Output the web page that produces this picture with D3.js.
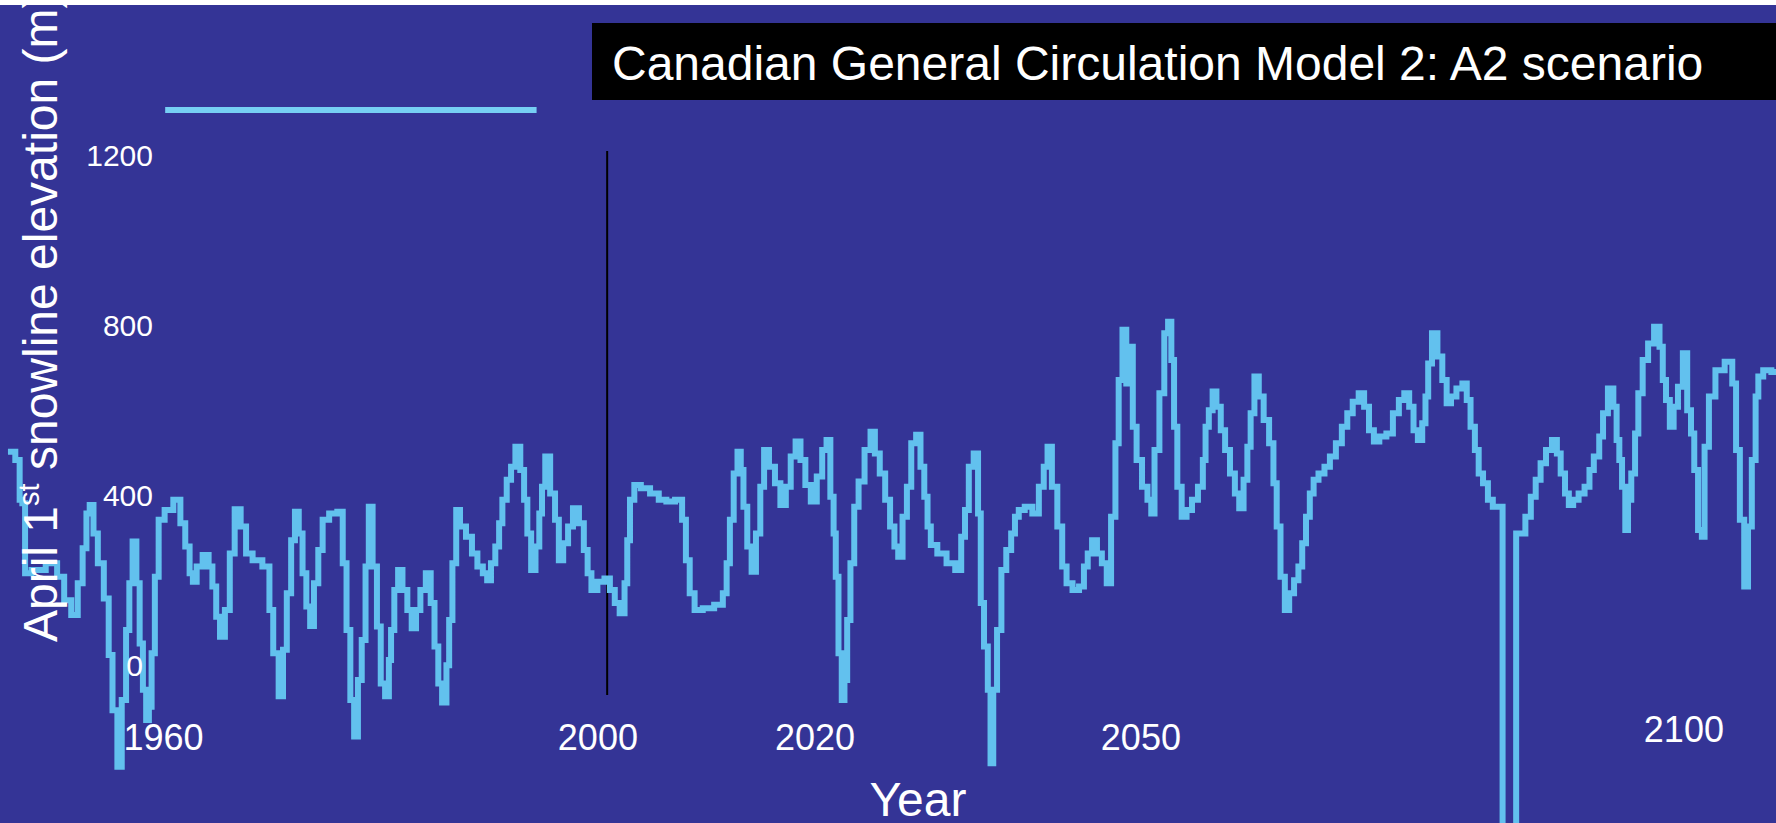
<!DOCTYPE html>
<html>
<head>
<meta charset="utf-8">
<script src="https://cdn.jsdelivr.net/npm/d3@7"></script>
<style>
  html, body { margin: 0; padding: 0; background: #ffffff; }
  svg { display: block; }
  text { font-family: "Liberation Sans", Arial, sans-serif; fill: #ffffff; }
</style>
</head>
<body>
<svg id="chart"></svg>
<script>
// April 1st snowline elevation, CGCM2 A2 run (vertices)
var snowYears = [
  1946.0,1946.8,1946.8,1947.3,1947.3,1948.5,1949.9,1950.6,1951.2,1951.9,1952.4,1952.8,1953.1,1953.4,1953.8,
  1954.2,1954.9,1955.1,1955.6,1956.0,1956.4,1956.8,1957.0,1957.4,1957.7,1958.0,1958.3,1958.6,1958.8,1959.1,
  1959.4,1959.8,1960.5,1961.4,1961.8,1962.3,1962.6,1962.9,1963.3,1964.0,1964.4,1964.7,1965.1,1965.4,1966.0,
  1966.3,1966.9,1967.4,1967.9,1968.6,1969.7,1969.9,1970.4,1970.9,1971.2,1971.6,1972.0,1972.3,1972.7,1973.0,
  1973.4,1973.7,1974.1,1974.5,1974.9,1975.7,1976.4,1976.7,1977.1,1977.4,1977.8,1978.1,1978.5,1978.8,1979.1,
  1979.5,1979.9,1980.2,1980.7,1980.9,1981.1,1981.5,1981.8,1982.3,1982.7,1983.1,1983.5,1983.9,1984.5,1984.8,
  1985.2,1985.5,1985.9,1986.3,1986.4,1986.9,1987.1,1987.6,1988.2,1988.7,1989.2,1989.7,1990.0,1990.4,1990.8,
  1991.1,1991.4,1991.9,1992.2,1992.7,1993.1,1993.4,1993.7,1994.1,1994.5,1994.8,1995.0,1995.4,1995.9,1996.3,
  1996.6,1997.1,1997.5,1998.0,1998.6,1998.9,1999.3,1999.6,2000.4,2000.9,2001.4,2001.8,2002.3,2002.7,2002.8,
  2003.2,2003.6,2004.4,2005.3,2006.0,2006.7,2007.6,2008.0,2008.3,2008.7,2009.2,2010.2,2011.3,2011.8,2012.0,
  2012.4,2012.7,2013.1,2013.3,2013.6,2014.0,2014.4,2014.8,2015.2,2015.5,2016.1,2016.6,2017.1,2017.6,2018.0,
  2018.5,2018.9,2019.4,2019.9,2020.5,2020.9,2021.3,2021.6,2021.9,2022.0,2022.4,2022.6,2022.9,2023.1,2023.5,
  2023.8,2024.3,2024.9,2025.4,2025.7,2026.3,2026.7,2027.2,2027.5,2027.9,2028.3,2028.7,2029.1,2029.6,2029.9,
  2030.3,2030.5,2030.9,2031.7,2032.6,2033.3,2033.7,2034.0,2034.4,2034.9,2035.2,2035.4,2035.8,2036.1,2036.3,
  2036.6,2037.0,2037.4,2037.9,2038.3,2038.6,2039.0,2039.7,2040.4,2040.9,2041.3,2041.6,2042.1,2042.6,2043.0,
  2043.4,2044.1,2044.6,2045.0,2045.3,2045.8,2046.2,2046.7,2047.1,2047.5,2047.9,2048.1,2048.6,2048.8,2049.2,
  2049.4,2049.9,2050.4,2050.9,2051.1,2051.5,2052.0,2052.4,2052.7,2053.0,2053.2,2053.6,2054.0,2054.5,2055.0,
  2055.6,2055.9,2056.1,2056.5,2056.8,2057.2,2057.6,2058.0,2058.5,2058.9,2059.3,2059.7,2060.0,2060.3,2060.7,
  2061.1,2061.6,2062.1,2062.4,2062.7,2063.1,2063.5,2063.9,2064.4,2064.7,2065.1,2065.4,2065.8,2066.1,2066.7,
  2067.2,2067.7,2068.3,2068.8,2069.3,2069.8,2070.4,2070.8,2071.3,2071.7,2072.3,2073.0,2073.5,2074.1,2074.5,
  2075.0,2075.3,2075.8,2076.1,2076.4,2076.6,2077.1,2077.6,2078.0,2078.4,2078.8,2079.4,2079.9,2080.2,2080.6,
  2081.0,2081.3,2081.8,2082.2,2082.7,2084.0,2085.2,2085.7,2086.2,2086.6,2087.1,2087.6,2088.2,2088.5,2088.9,
  2089.3,2089.6,2090.1,2090.6,2091.2,2091.5,2092.0,2092.5,2092.7,2093.4,2093.7,2094.0,2094.2,2094.5,2094.8,
  2095.0,2095.4,2095.7,2096.0,2096.5,2097.0,2097.6,2098.0,2098.2,2098.6,2098.9,2099.3,2099.7,2100.2,2100.5,
  2100.9,2101.1,2101.6,2101.8,2102.1,2102.6,2103.3,2104.3,2104.7,2105.0,2105.4,2105.8,2106.1,2106.5,2106.8,
  2107.0,2107.7,2108.5
]
var snowValues = [
  504,485,391,383,218,226,242,210,155,120,195,277,359,379,312,
  242,159,26,-104,-237,-80,85,195,293,195,53,-56,-127,-96,30,
  210,344,367,391,336,281,218,198,234,261,234,187,116,69,132,
  265,369,328,265,249,234,132,30,-71,38,171,296,363,312,218,
  140,94,195,273,344,359,363,242,85,-80,-166,-33,61,234,375,
  234,93,-41,-71,14,85,179,226,179,132,89,132,179,218,148,
  46,-41,-86,2,108,242,367,328,304,265,234,218,202,242,281,
  336,391,438,469,516,461,391,312,226,281,359,422,493,406,344,
  249,289,328,371,336,273,218,179,198,206,179,148,124,195,296,
  391,426,418,406,391,387,391,344,249,171,132,136,144,171,242,
  344,453,504,461,375,281,222,312,422,508,469,430,379,422,493,
  528,485,426,387,446,508,532,398,312,210,30,-80,-33,108,242,
  375,434,508,551,500,453,391,328,281,257,351,422,524,544,469,
  398,328,285,265,242,226,304,367,469,500,359,148,46,-56,-229,
  -56,85,226,273,312,351,367,375,359,422,469,516,422,328,234,
  195,179,187,234,265,296,265,242,195,351,524,673,791,665,751,
  563,485,422,391,359,508,642,783,810,720,563,422,351,367,391,
  422,485,563,602,646,610,555,508,453,406,371,438,516,595,681,
  634,579,524,430,328,210,132,171,202,234,289,351,406,438,453,
  469,493,524,563,595,622,642,610,555,528,540,547,595,626,642,
  610,555,532,571,634,712,783,728,673,618,634,653,665,626,563,
  508,453,430,391,375,-814,312,351,398,438,477,508,532,500,453,
  406,379,391,406,422,461,493,540,595,653,610,532,485,422,320,
  391,453,547,642,720,759,798,751,673,626,563,610,657,736,602,
  547,461,320,304,516,634,696,716,665,508,344,187,328,485,634,
  681,696,692
]

var xTicks = [1960, 2000, 2020, 2050, 2100]
var yTicks = [0, 400, 800, 1200]

// upper light-blue bar and the black divider (in data units)
var barYears = [1960.2, 1994.4]
var barValue = 1308
var dividerYear = 2000.9
var dividerRange = [-68, 1212]

var titleText = "Canadian General Circulation Model 2: A2 scenario"

var dimensions = {
    width: 1776,
    height: 823,
    bandTop: 5
}

var svg = d3.select("#chart")
            .attr("width", dimensions.width)
            .attr("height", dimensions.height)

svg.append("rect")
   .attr("x", 0).attr("y", dimensions.bandTop)
   .attr("width", dimensions.width)
   .attr("height", dimensions.height - dimensions.bandTop)
   .style("fill", "#343496")

var xScale = d3.scaleLinear()
               .domain([1960, 2100])
               .range([163, 1683.4])

var yScale = d3.scaleLinear()
               .domain([0, 1200])
               .range([666, 156])

var dataset = snowYears.map((yr, i) => ({year: yr, value: snowValues[i]}))

// light bar near the top
svg.append("line")
   .attr("x1", xScale(barYears[0])).attr("x2", xScale(barYears[1]))
   .attr("y1", yScale(barValue)).attr("y2", yScale(barValue))
   .style("stroke", "#76cff4")
   .style("stroke-width", 6)

// vertical divider
svg.append("line")
   .attr("x1", xScale(dividerYear)).attr("x2", xScale(dividerYear))
   .attr("y1", yScale(dividerRange[1])).attr("y2", yScale(dividerRange[0]))
   .style("stroke", "#000000")
   .style("stroke-width", 2)

// the original is a coarse bitmap, so draw the trace as steps
var line = d3.line()
             .x(d => xScale(d.year))
             .y(d => yScale(d.value))
             .curve(d3.curveStep)

var plot = svg.append("g")
svg.append("clipPath").attr("id", "clip")
   .append("rect")
   .attr("x", 0).attr("y", dimensions.bandTop)
   .attr("width", dimensions.width).attr("height", dimensions.height - dimensions.bandTop)

plot.attr("clip-path", "url(#clip)")
    .append("path")
    .datum(dataset)
    .attr("d", line)
    .style("fill", "none")
    .style("stroke", "#62c1ee")
    .style("stroke-width", 6)
    .style("stroke-linejoin", "miter")
    .style("stroke-linecap", "square")

// axes: labels only
var xAxisgen = d3.axisBottom(xScale)
                 .tickValues(xTicks)
                 .tickFormat(d3.format("d"))
                 .tickSize(0)
                 .tickPadding(0)

var yAxisgen = d3.axisLeft(yScale)
                 .tickValues(yTicks)
                 .tickFormat(d3.format("d"))
                 .tickSize(0)
                 .tickPadding(0)

var xAxis = svg.append("g")
               .attr("transform", "translate(0,724)")
               .call(xAxisgen)
xAxis.select(".domain").remove()
xAxis.selectAll("text")
     .style("font-size", "36px")
     .style("fill", "#ffffff")
     .style("font-family", "'Liberation Sans', Arial, sans-serif")
xAxis.selectAll(".tick").filter(d => d == 2100)
     .select("text").attr("y", -8)

var yAxis = svg.append("g")
               .attr("transform", "translate(153,0)")
               .call(yAxisgen)
yAxis.select(".domain").remove()
yAxis.selectAll("text")
     .style("font-size", "30px")
     .style("fill", "#ffffff")
     .style("font-family", "'Liberation Sans', Arial, sans-serif")
yAxis.selectAll(".tick").filter(d => d == 0)
     .select("text").attr("x", -10)

// title box
svg.append("rect")
   .attr("x", 592).attr("y", 23)
   .attr("width", dimensions.width - 592).attr("height", 77)
   .style("fill", "#000000")

svg.append("text")
   .attr("x", 612).attr("y", 80)
   .style("font-size", "48px")
   .text(titleText)

// axis titles
var yTitle = svg.append("text")
                .attr("transform", "translate(57,642) rotate(-90)")
                .style("font-size", "48px")
yTitle.append("tspan").text("April 1")
yTitle.append("tspan").attr("dy", -18).style("font-size", "29px").text("st")
yTitle.append("tspan").attr("dy", 18).text(" snowline elevation (m)")

svg.append("text")
   .attr("x", 918).attr("y", 816)
   .attr("text-anchor", "middle")
   .style("font-size", "48px")
   .text("Year")

// white band at the very top
svg.append("rect")
   .attr("x", 0).attr("y", 0)
   .attr("width", dimensions.width).attr("height", dimensions.bandTop)
   .style("fill", "#ffffff")
</script>
</body>
</html>
